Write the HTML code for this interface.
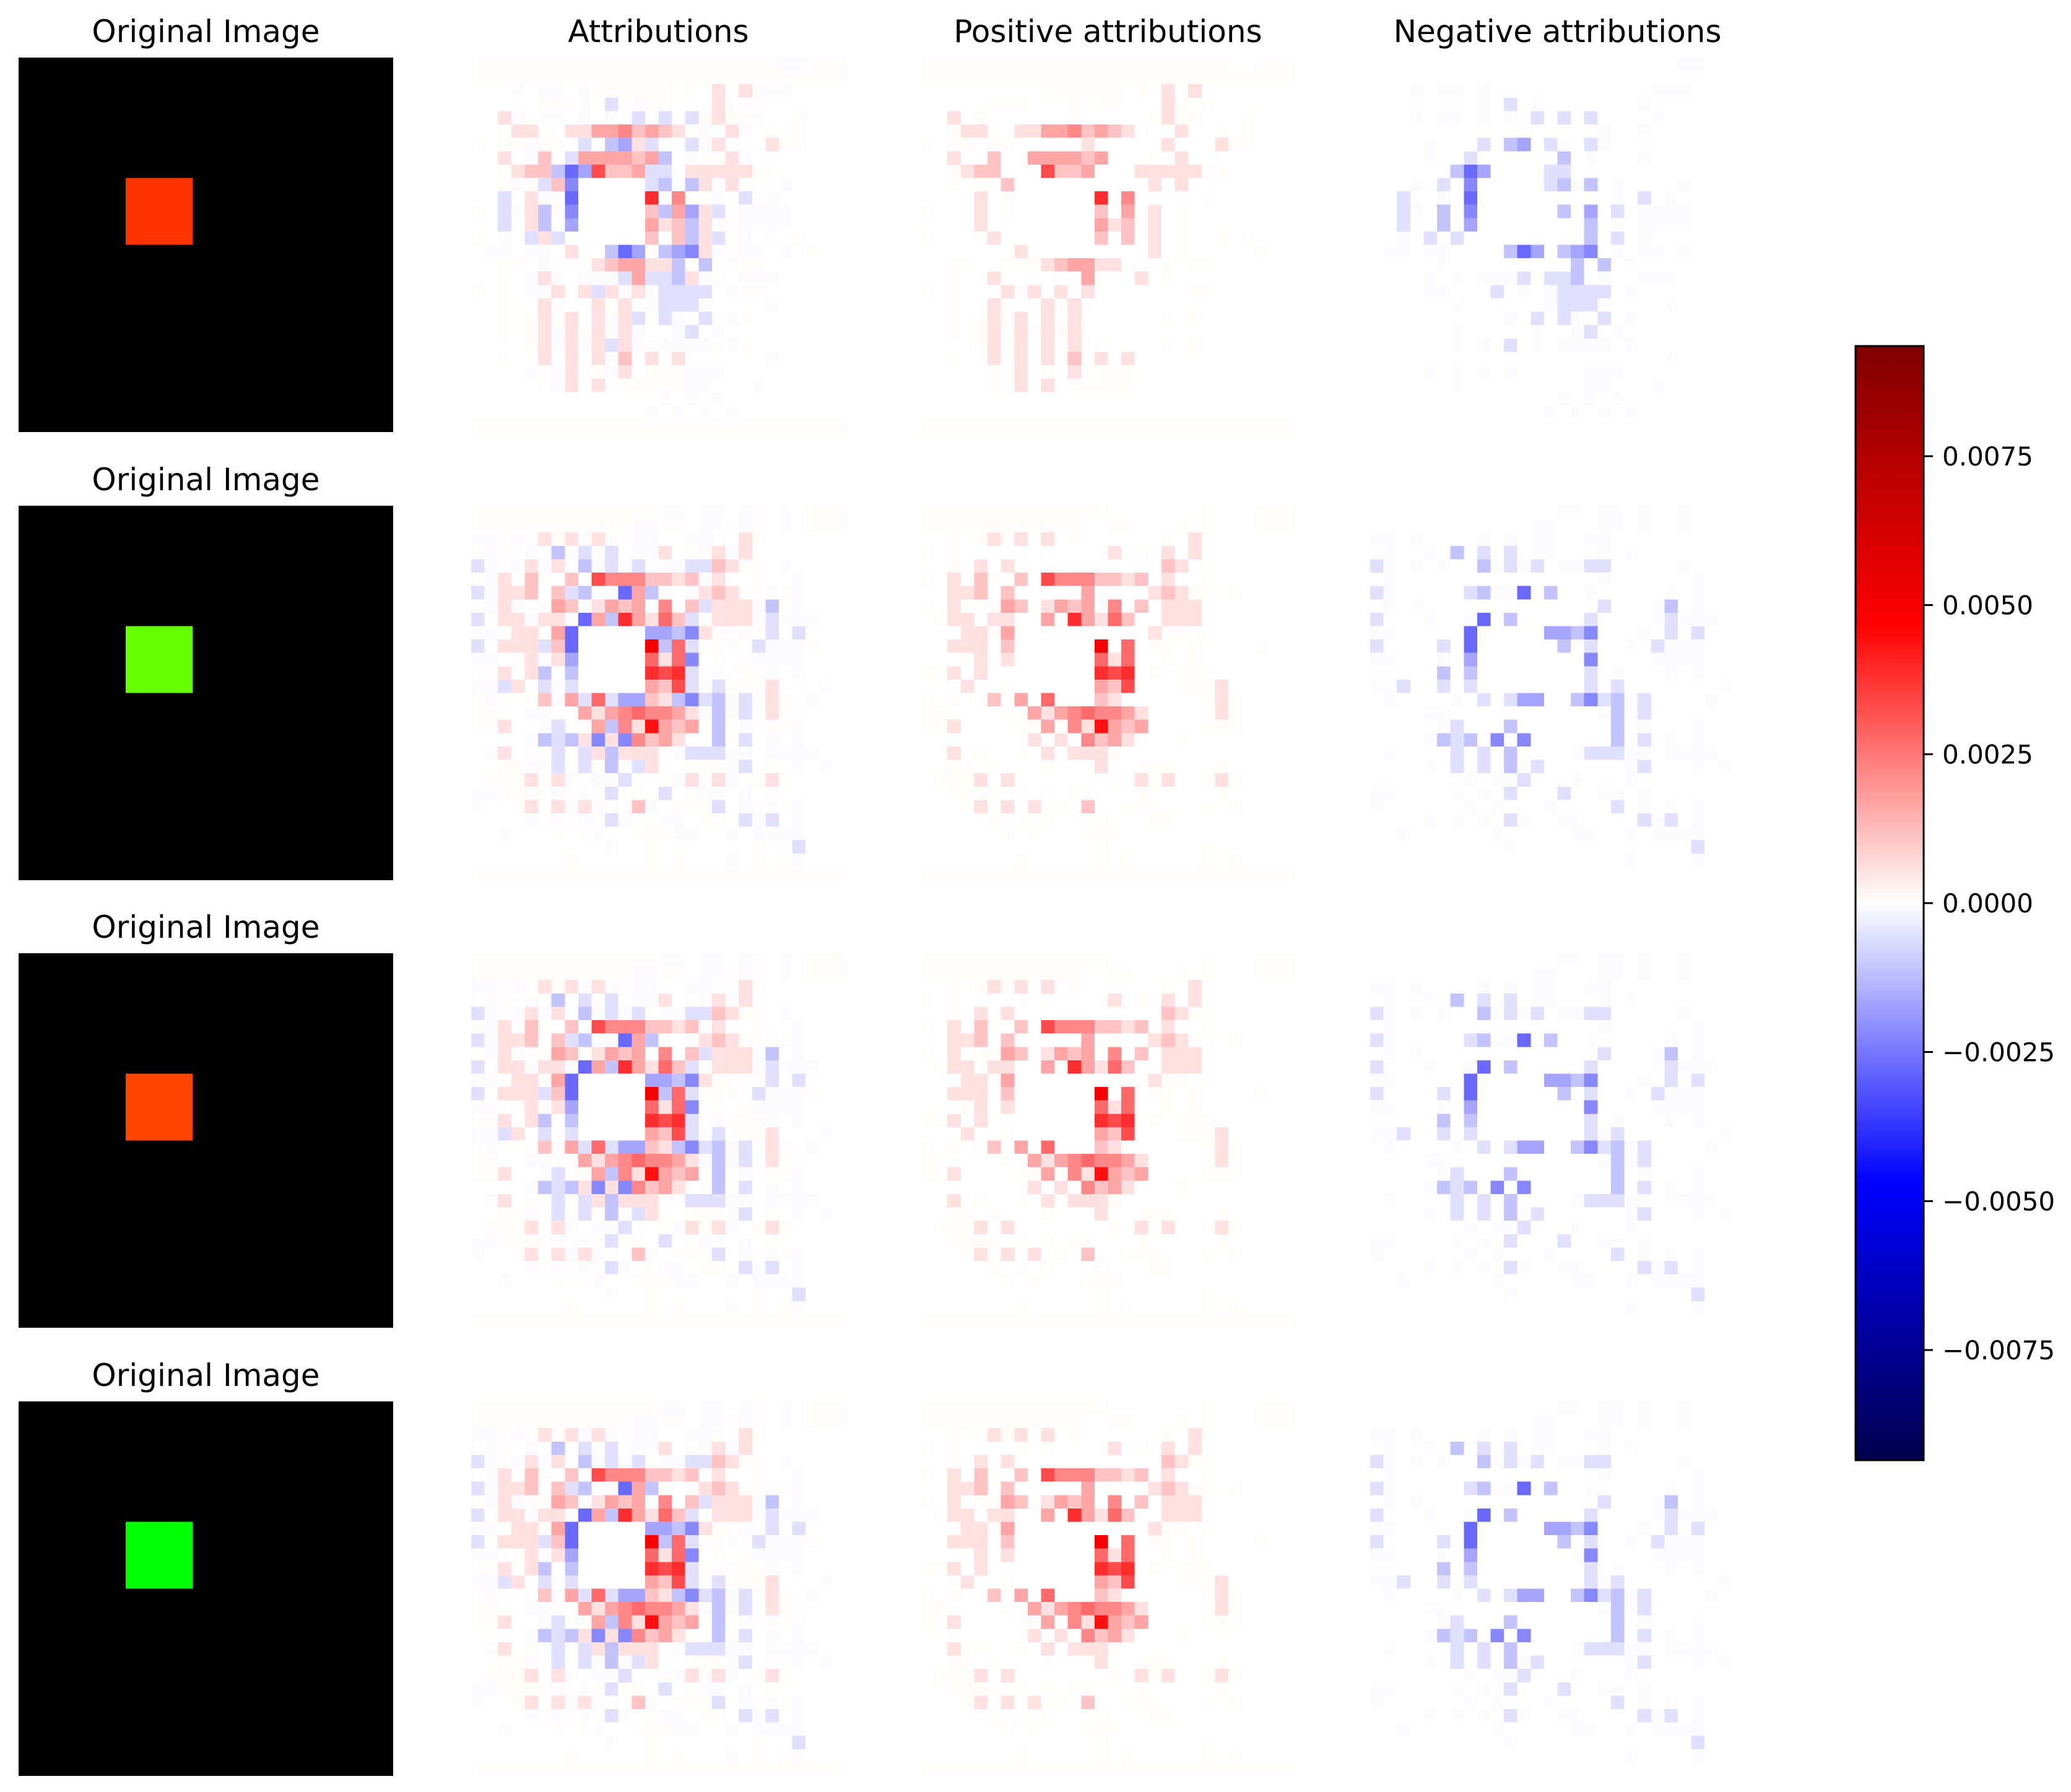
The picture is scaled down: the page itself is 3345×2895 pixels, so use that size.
<!DOCTYPE html>
<html><head><meta charset="utf-8"><style>
html,body{margin:0;padding:0;background:#fff;}
svg{display:block;}
text{font-family:"DejaVu Sans","Liberation Sans",sans-serif;fill:#000;}
</style></head><body>
<svg id="fig" width="3345" height="2895" viewBox="0 0 3345 2895" xmlns="http://www.w3.org/2000/svg" shape-rendering="crispEdges"></svg>
<script>
// ---- data ----
const vmax = 0.00935;
const colorbarTicks = [0.0075, 0.005, 0.0025, 0, -0.0025, -0.005, -0.0075];
const colorbarTickLabels = ["0.0075","0.0050","0.0025","0.0000","\u22120.0025","\u22120.0050","\u22120.0075"];
const columnTitles = ["Original Image","Attributions","Positive attributions","Negative attributions"];
const squareColors = ["#ff3300","#66ff00","#ff4400","#00ff00"];
const squareCell = [8, 9, 5]; // col, row, size in grid cells
const gridSize = 28;
const levelStep = 0.00055;
const faintLevel = 0.00005;
// attribution map, sample 1 (encoded: digits +, letters -, '+'/'-' faint)
const attrMap1 = [
"+++++++++++++++++++++++--+++",
"++++++++++++++++++++++++++++",
"000-0--0-++++++0+0101---0000",
"00000+++-0a+-++0001+-+000000",
"001-+--0-0-+a0a0a+1++-00+000",
"00+11+0113342321+-01-0+0+000",
"+0++-++0a0bc1a-0a-10001++000",
"0010-20a333323b0-++1-0000000",
"00+122bec6223aa011111++00000",
"00+-+a2d00000ab-b1-1000-0000",
"00a01-+e0000070400-0a+-00000",
"+0a-1b+d000002b3c1a+----0000",
"00a01b0c00000312b1-+----0000",
"+0-0a1a000000202b1a+-0+0+000",
"0--0--0100bec0bcd1-+--0-0+00",
"00++0-+++123311b0b+-++000000",
"00+0-1-0---a3aab1-+0---00000",
"+0+0--1+1a1-1-aaaa0-++000000",
"00+001-001+10-aaa-0000-00000",
"00+0+1+101-1a0a-0a+-+0000000",
"00+0+1-1+1+1-00-a0-000000000",
"0000+1-1-1a1-+----+-+0000000",
"00+0010101020101000000-00000",
"0000-+-1-+-10+++---000000000",
"00000+-1010+++++--000-000000",
"00000000000000-0-0-000000000",
"0000000000000-0-0-0-00000000",
"++++++++++++++++++++++++++++"
];
// attribution map, samples 2-4
const attrMap2 = [
"++++++++++++++--0--0-+0-0+++",
"++++++++++++--++0--+-+0-0+++",
"--+-+1+1-1-+--00--+01+000000",
"+-+0-0b+a+a0--10+-1-10000000",
"a-+-1-10b-a-a0--aa21++0-0000",
"+-102+02064442212-100+00-000",
"a-11202ab--e3b+0-121++-+-000",
"+-1-++32+13230402a111-b0-000",
"a+11-11-e3b73152a0111-a---00",
"--011+3e00000ccbd1++-+a0a000",
"a0111a2e000009b5a++-+a---+00",
"--0+1-1c00000515d0+0+----000",
"++101b0b00000767a+-+++-0-000",
"--a10a+a00000326a-a+++1000-0",
"+-+0+2-3a5acc21bdab-a+1+0-00",
"++00--+0313454431-b-a01+0000",
"++100-a++3b4183230b0-+++-000",
"0000-bab1d1d423100b+a0-0-000",
"0-10+0a+a1b111+-aaa--0----00",
"00++-+a0a+b-a100+++-a0+0-0-0",
"0+++101-0--a00+-1+1-0+1+0000",
"--++++-+-+a++0a0+--0-0+00000",
"-00+101-1-+02-0+++a0-+-+-000",
"0000-+-+-+a-0+--0++0a-a0-000",
"00-000+0+-00+++--00-0----000",
"0000000000-00+0000000+00a000",
"0000000+00000+0+000-0+0+-000",
"++++++++++++++++++++++++++++"
];
const sampleMaps = [attrMap1, attrMap2, attrMap2, attrMap2];

// ---- layout ----
const colX = [30, 761, 1487, 2213];
const rowY = [93, 817, 1540, 2264];
const axSize = 605;
const cb = {x: 2997, y: 559, w: 110, h: 1800};
const NS = "http://www.w3.org/2000/svg";
const svg = document.getElementById("fig");

function decode(ch){
  if (ch === '0') return 0;
  if (ch === '+') return faintLevel;
  if (ch === '-') return -faintLevel;
  if (ch >= '1' && ch <= '9') return (ch.charCodeAt(0)-48)*levelStep;
  return -(ch.charCodeAt(0)-96)*levelStep;
}
function interp(pts, t){
  for (let i=1;i<pts.length;i++){
    if (t <= pts[i][0]){
      const a=pts[i-1], b=pts[i];
      return a[1] + (b[1]-a[1])*(t-a[0])/(b[0]-a[0]);
    }
  }
  return pts[pts.length-1][1];
}
function seismic(v){
  let t = (v/vmax + 1)/2; t = Math.max(0, Math.min(1, t));
  const r = interp([[0,0],[0.25,0],[0.5,1],[0.75,1],[1,0.5]], t);
  const g = interp([[0,0],[0.25,0],[0.5,1],[0.75,0],[1,0]], t);
  const b = interp([[0,0.3],[0.25,1],[0.5,1],[0.75,0],[1,0]], t);
  return "rgb("+Math.round(r*255)+","+Math.round(g*255)+","+Math.round(b*255)+")";
}
function mk(tag, attrs, parent){
  const e = document.createElementNS(NS, tag);
  for (const k in attrs) e.setAttribute(k, attrs[k]);
  (parent||svg).appendChild(e);
  return e;
}
const cell = axSize/gridSize;

for (let r=0;r<4;r++){
  for (let c=0;c<4;c++){
    const g = mk("g", {});
    
    
    if (c === 0 || r === 0){
      const title = mk("text", {x: colX[c]+axSize/2, y: rowY[r]-25, "font-size": 50, "text-anchor": "middle"}, g);
      title.textContent = columnTitles[c];
      
      
    }
    if (c === 0){
      const bg = mk("rect", {x: colX[c], y: rowY[r], width: axSize, height: axSize, fill: "#000"}, g);
      
      
      const sq = mk("rect", {x: colX[c]+squareCell[0]*cell, y: rowY[r]+squareCell[1]*cell, width: squareCell[2]*cell, height: squareCell[2]*cell, fill: squareColors[r]}, g);
      
      
      continue;
    }
    const map = sampleMaps[r];
    for (let i=0;i<gridSize;i++){
      const rowStr = (map[i]||"").padEnd(gridSize,'0');
      for (let j=0;j<gridSize;j++){
        let v = decode(rowStr[j]);
        if (c === 2) v = Math.max(v, 0);
        if (c === 3) v = Math.min(v, 0);
        const rc = mk("rect", {x: (colX[c]+j*cell).toFixed(2), y: (rowY[r]+i*cell).toFixed(2), width: (cell+0.6).toFixed(2), height: (cell+0.6).toFixed(2), fill: seismic(v)}, g);
        
        
      }
    }
  }
}

// ---- colorbar ----
const defs = mk("defs", {});
const grad = mk("linearGradient", {id: "cbgrad", x1: 0, y1: 1, x2: 0, y2: 0}, defs);
for (let k=0;k<=40;k++){
  const t = k/40;
  mk("stop", {offset: t, "stop-color": seismic((t*2-1)*vmax)}, grad);
}
const cbg = mk("g", {});


const cbr = mk("rect", {x: cb.x, y: cb.y, width: cb.w, height: cb.h, fill: "url(#cbgrad)", stroke: "#000", "stroke-width": 3}, cbg);


function cbY(v){ return cb.y + cb.h/2 - v/vmax*(cb.h/2); }
for (let k=0;k<colorbarTicks.length;k++){
  const y = cbY(colorbarTicks[k]);
  const tk = mk("line", {x1: cb.x+cb.w, x2: cb.x+cb.w+15, y1: y, y2: y, stroke: "#000", "stroke-width": 3}, cbg);
  
  
  const lb = mk("text", {x: cb.x+cb.w+30, y: y+15, "font-size": 42}, cbg);
  lb.textContent = colorbarTickLabels[k];
  
  
}
</script>
</body></html>
